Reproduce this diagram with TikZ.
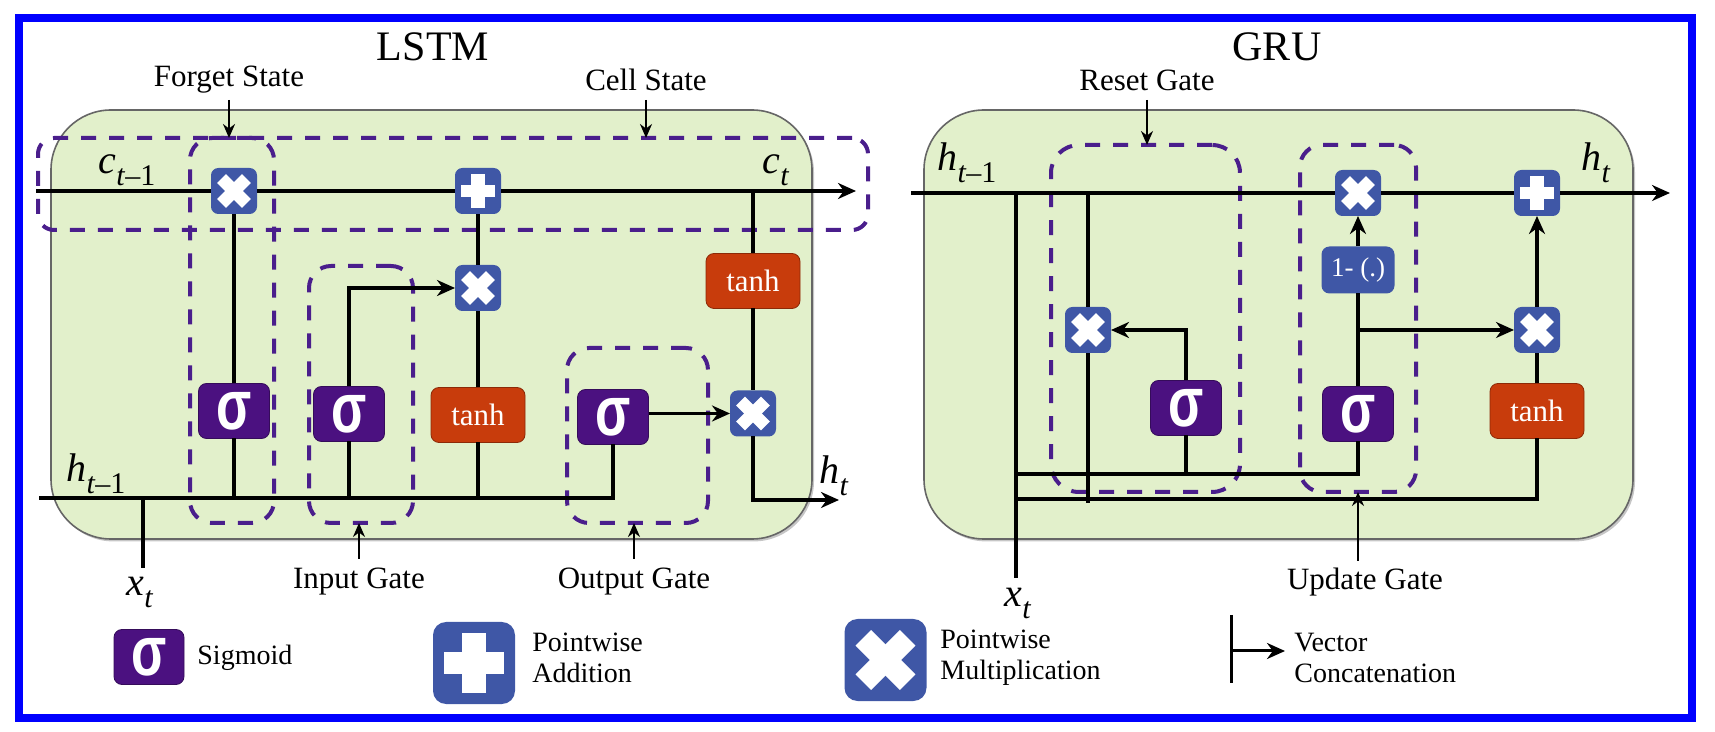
\documentclass[tikz,border=0pt]{standalone}
\usepackage{fontspec}
\setmainfont{Liberation Serif}
\newfontfamily\sigmafont{Liberation Sans}
\usetikzlibrary{arrows.meta,shadows}

\definecolor{lstmgreen}{RGB}{226,240,203}
\definecolor{gatepurple}{RGB}{75,17,128}
\definecolor{dashpurple}{RGB}{74,30,140}
\definecolor{opblue}{RGB}{63,87,166}
\definecolor{tanhred}{RGB}{200,60,12}

\newcommand{\subvar}[2]{\textit{#1}\raisebox{-.3em}{\fontsize{15}{15}\selectfont#2}}
\newcommand{\sigmaglyph}{\scalebox{0.86}[1.17]{σ}}

\tikzset{
    >={Stealth[length=9pt,width=8pt]},
    wire/.style={line width=1.75pt, black},
    pointer/.style={line width=1pt, black, ->, >={Stealth[length=7pt,width=6pt]}},
    cellbox/.style={draw=gray!80!black, fill=lstmgreen, line width=0.8pt, rounded corners=30pt, inner sep=0pt, outer sep=0pt, minimum height=214.5pt,
        drop shadow={shadow xshift=1pt, shadow yshift=-1.2pt, opacity=0.45, fill=gray}},
    gategroup/.style={draw=dashpurple, line width=2pt, dash pattern=on 7.5pt off 6.5pt, rounded corners=11pt, inner sep=0pt, outer sep=0pt},
    sigmabox/.style={draw=gatepurple!70!black, fill=gatepurple, text=white, rounded corners=4pt, minimum width=35.5pt, minimum height=27.5pt, inner sep=0pt, outer sep=0pt, font=\sigmafont\bfseries\fontsize{30}{30}\selectfont},
    tanhbox/.style={draw=tanhred!70!black, fill=tanhred, text=white, rounded corners=4pt, minimum width=47pt, minimum height=27.5pt, inner sep=0pt, outer sep=0pt, font=\fontsize{15.5}{15.5}\selectfont},
    invbox/.style={fill=opblue, text=white, rounded corners=4pt, minimum width=36.5pt, minimum height=23.5pt, inner sep=0pt, outer sep=0pt, font=\fontsize{13.5}{13.5}\selectfont},
    plusbox/.style={fill=opblue, rounded corners=0.16*#1, minimum size=#1, inner sep=0pt, outer sep=0pt,
        path picture={
            \fill[white, sharp corners] ([shift={(-0.36*#1,-0.13*#1)}]path picture bounding box.center) rectangle ([shift={(0.36*#1,0.13*#1)}]path picture bounding box.center);
            \fill[white, sharp corners] ([shift={(-0.15*#1,-0.36*#1)}]path picture bounding box.center) rectangle ([shift={(0.15*#1,0.36*#1)}]path picture bounding box.center);
        }},
    mulbox/.style={fill=opblue, rounded corners=0.16*#1, minimum size=#1, inner sep=0pt, outer sep=0pt,
        path picture={
            \draw[white, sharp corners, line width=0.27*#1] ([shift={(-0.27*#1,-0.27*#1)}]path picture bounding box.center) -- ([shift={(0.27*#1,0.27*#1)}]path picture bounding box.center);
            \draw[white, sharp corners, line width=0.27*#1] ([shift={(-0.27*#1,0.27*#1)}]path picture bounding box.center) -- ([shift={(0.27*#1,-0.27*#1)}]path picture bounding box.center);
        }},
    titlelbl/.style={inner sep=0pt, font=\fontsize{21}{21}\selectfont},
    gatelbl/.style={inner sep=0pt, font=\fontsize{15.5}{15.5}\selectfont},
    varlbl/.style={inner sep=0pt, font=\fontsize{20}{20}\selectfont},
    legendlbl/.style={inner sep=0pt, anchor=west, align=left, font=\fontsize{14}{15.5}\selectfont},
}

\begin{document}
\begin{tikzpicture}[x=0.5pt, y=-0.5pt]
    % Page and blue frame
    \useasboundingbox (0,0) rectangle (1715,732);
    \draw[blue, line width=4pt] (19,18.5) rectangle (1691.5,717.5);

    % Green cells
    \node[cellbox, minimum width=380.5pt] (lstmcell) at (431.5,324.5) {};
    \node[cellbox, minimum width=354.5pt] (grucell) at (1278.5,324.5) {};

    % Titles
    \node[titlelbl] (lstmtitle) at (433,47) {LSTM};
    \node[titlelbl] (grutitle) at (1277,47) {GRU};

    % LSTM dashed groups
    \node[gategroup, minimum width=415pt, minimum height=46pt, rounded corners=8pt] (cellgroup) at (453,184) {};
    \node[gategroup, minimum width=42pt, minimum height=192.5pt] (forgetgroup) at (232,330.5) {};
    \node[gategroup, minimum width=52pt, minimum height=128.5pt] (inputgroup) at (361,394.5) {};
    \node[gategroup, minimum width=70.5pt, minimum height=87.5pt] (outputgroup) at (637.5,435.5) {};

    % GRU dashed groups
    \node[gategroup, minimum width=94.5pt, minimum height=173.5pt, rounded corners=14pt] (resetgroup) at (1145.5,318.5) {};
    \node[gategroup, minimum width=58pt, minimum height=173.5pt] (updategroup) at (1358,318.5) {};

    % LSTM operators
    \node[mulbox=23pt] (forgetmul) at (234,191) {};
    \node[plusbox=23pt] (celladd) at (478,191) {};
    \node[mulbox=23pt] (inputmul) at (478,288) {};
    \node[mulbox=23pt] (outputmul) at (753,413.5) {};
    \node[tanhbox] (celltanh) at (753,281) {tanh};
    \node[tanhbox] (inputtanh) at (478,415) {tanh};
    \node[sigmabox] (forgetsig) at (234,411) {\sigmaglyph};
    \node[sigmabox] (inputsig) at (349,414) {\sigmaglyph};
    \node[sigmabox] (outputsig) at (613,417) {\sigmaglyph};

    % GRU operators
    \node[mulbox=23pt] (resetmul) at (1088,330) {};
    \node[mulbox=23pt] (updatemul) at (1358,193) {};
    \node[mulbox=23pt] (outmul) at (1537,330) {};
    \node[plusbox=23pt] (outadd) at (1537,193) {};
    \node[invbox] (invert) at (1358,270) {1- (.)};
    \node[tanhbox] (grutanh) at (1537,411) {tanh};
    \node[sigmabox] (resetsig) at (1186,408) {\sigmaglyph};
    \node[sigmabox] (updatesig) at (1358,414) {\sigmaglyph};

    % LSTM wire ends
    \coordinate (cin) at (36,191);
    \coordinate (cout) at (856,191);
    \coordinate (ctap) at (753,191);
    \coordinate (hin) at (39,498);
    \coordinate (hout) at (839,500);
    \coordinate (xtap) at (143,498);
    \coordinate (xend) at (143,568);

    % GRU wire ends
    \coordinate (gruin) at (911,193);
    \coordinate (gruout) at (1670,193);
    \coordinate (grutap) at (1016,193);
    \coordinate (gruend) at (1016,578);
    \coordinate (resettap) at (1088,193);
    \coordinate (resetend) at (1088,503);
    \coordinate (upperbus) at (1016,474);
    \coordinate (lowerbus) at (1016,499);
    \coordinate (branch) at (1358,330);

    % Variables
    \node[varlbl] (clast) at (127,170) {\subvar{c}{\textit{t}–1}};
    \node[varlbl] (cnow) at (776,170) {\subvar{c}{\textit{t}}};
    \node[varlbl] (hlast) at (96,474) {\subvar{h}{\textit{t}–1}};
    \node[varlbl] (hnow) at (834,476) {\subvar{h}{\textit{t}}};
    \node[varlbl] (xlstm) at (140,592) {\subvar{x}{\textit{t}}};
    \node[varlbl] (grulast) at (967,163) {\subvar{h}{\textit{t}–1}};
    \node[varlbl] (grunow) at (1596,163) {\subvar{h}{\textit{t}}};
    \node[varlbl] (xgru) at (1018,603) {\subvar{x}{\textit{t}}};

    % Gate labels
    \node[gatelbl] (forgetlbl) at (229,80) {Forget State};
    \node[gatelbl] (celllbl) at (646,80) {Cell State};
    \node[gatelbl] (inputlbl) at (359,582) {Input Gate};
    \node[gatelbl] (outputlbl) at (634,582) {Output Gate};
    \node[gatelbl] (resetlbl) at (1147,80) {Reset Gate};
    \node[gatelbl] (updatelbl) at (1365,582) {Update Gate};

    % LSTM wires
    \draw[wire] (cin) -- (forgetmul.west);
    \draw[wire] (forgetmul.east) -- (celladd.west);
    \draw[wire, ->] (celladd.east) -- (cout);
    \draw[wire] (forgetsig.north) -- (forgetmul.south);
    \draw[wire] (inputmul.north) -- (celladd.south);
    \draw[wire] (inputtanh.north) -- (inputmul.south);
    \draw[wire, ->] (inputsig.north) |- (inputmul.west);
    \draw[wire] (ctap) -- (celltanh.north);
    \draw[wire] (celltanh.south) -- (outputmul.north);
    \draw[wire, ->] (outputmul.south) |- (hout);
    \draw[wire, ->] (outputsig.east |- outputmul.west) -- (outputmul.west);
    \draw[wire] (hin) -| (outputsig.south);
    \draw[wire] (forgetsig.south) -- (forgetsig.south |- hin);
    \draw[wire] (inputsig.south) -- (inputsig.south |- hin);
    \draw[wire] (inputtanh.south) -- (inputtanh.south |- hin);
    \draw[wire] (xtap) -- (xend);

    % GRU wires
    \draw[wire] (gruin) -- (updatemul.west);
    \draw[wire] (updatemul.east) -- (outadd.west);
    \draw[wire, ->] (outadd.east) -- (gruout);
    \draw[wire] (grutap) -- (gruend);
    \draw[wire] (resettap) -- (resetmul.north);
    \draw[wire] (resetmul.south) -- (resetend);
    \draw[wire, ->] (resetsig.north) |- (resetmul.east);
    \draw[wire] (resetsig.south) -- (resetsig.south |- upperbus);
    \draw[wire] (upperbus) -| (updatesig.south);
    \draw[wire] (grutanh.south) |- (lowerbus);
    \draw[wire] (updatesig.north) -- (invert.south);
    \draw[wire, ->] (invert.north) -- (updatemul.south);
    \draw[wire, ->] (branch) -- (outmul.west);
    \draw[wire, ->] (outmul.north) -- (outadd.south);
    \draw[wire] (grutanh.north) -- (outmul.south);

    % Pointers from the labels
    \draw[pointer] (forgetlbl.south |- 0,100) -- (forgetlbl.south |- forgetgroup.north);
    \draw[pointer] (celllbl.south |- 0,100) -- (celllbl.south |- cellgroup.north);
    \draw[pointer] (inputlbl.north |- 0,559) -- (inputlbl.north |- inputgroup.south);
    \draw[pointer] (outputlbl.north |- 0,559) -- (outputlbl.north |- outputgroup.south);
    \draw[pointer] (resetlbl.south |- 0,100) -- (resetlbl.south |- resetgroup.north);
    \draw[pointer] (updategroup.south |- 0,561) -- (updategroup.south);

    % Legend
    \node[sigmabox, minimum width=35pt] (legendsig) at (149,657) {\sigmaglyph};
    \node[legendlbl] (sigmoidlbl) at (197,658) {Sigmoid};
    \node[plusbox=41pt] (legendadd) at (474,663) {};
    \node[legendlbl] (addlbl) at (532,657.5) {Pointwise\\Addition};
    \node[mulbox=41pt] (legendmul) at (885.5,660) {};
    \node[legendlbl] (mullbl) at (940,657.5) {Pointwise\\Multiplication};
    \coordinate (vectop) at (1231,615);
    \coordinate (vecbot) at (1231,683);
    \coordinate (vecmid) at (1231,651);
    \coordinate (vectip) at (1285,651);
    \draw[wire, line width=1.5pt] (vectop) -- (vecbot);
    \draw[wire, line width=1.5pt, ->] (vecmid) -- (vectip);
    \node[legendlbl] (veclbl) at (1294,657.5) {Vector\\Concatenation};
\end{tikzpicture}
\end{document}
